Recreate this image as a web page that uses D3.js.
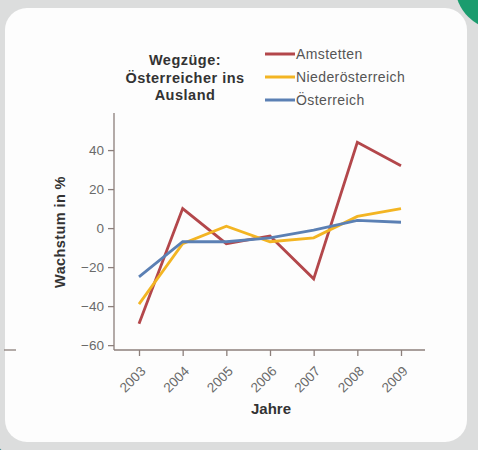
<!DOCTYPE html>
<html>
<head>
<meta charset="utf-8">
<script src="https://cdn.jsdelivr.net/npm/d3@7"></script>
<style>
  body { margin: 0; background: #dcdddd; }
  svg { display: block; }
  .axis text { font-family: "Liberation Sans", Arial, sans-serif; font-size: 13.5px; fill: #6a6a6a; }
  .axis path, .axis line { stroke: #8c7f7b; stroke-width: 1.3; }
</style>
</head>
<body>
<div id="chart"></div>
<script>
const years = [2003, 2004, 2005, 2006, 2007, 2008, 2009];
const amstetten = [-49, 10, -8, -4, -26, 44, 32];
const niederoesterreich = [-39, -8, 1, -7, -5, 6, 10];
const oesterreich = [-25, -7, -7, -5, -1, 4, 3];
const seriesNames = ["Amstetten", "Niederösterreich", "Österreich"];
const seriesColors = ["#b3474b", "#f3b523", "#5b80b4"];
const yTicks = [-60, -40, -20, 0, 20, 40];

const w = 478, h = 450;
const font = "Liberation Sans, Arial, sans-serif";
const svg = d3.select("#chart").append("svg").attr("width", w).attr("height", h);

// background pieces around the card
svg.append("rect").attr("width", w).attr("height", h).attr("fill", "#dcdddd");
svg.append("circle").attr("cx", 500).attr("cy", -15).attr("r", 45).attr("fill", "#1b9c6e");
svg.append("circle").attr("cx", -20).attr("cy", 468).attr("r", 28).attr("fill", "#3f8f94");
svg.append("rect").attr("x", 5).attr("y", 8).attr("width", 462).attr("height", 434)
    .attr("rx", 22).attr("fill", "#fdfdfd");
svg.append("line").attr("x1", 4).attr("x2", 16).attr("y1", 350).attr("y2", 350)
    .attr("stroke", "#8c7f7b").attr("stroke-width", 1.3);

const xScale = d3.scalePoint().domain(years).range([139, 401]);
const yScale = d3.scaleLinear().domain([-62.5, 58.5]).range([350, 114]);

const xAxis = d3.axisBottom(xScale).tickSize(6);
const yAxis = d3.axisLeft(yScale).tickValues(yTicks).tickSize(6).tickPadding(4);

const gx = svg.append("g").attr("class", "axis")
    .attr("transform", "translate(0,350)")
    .call(xAxis);
gx.select(".domain").attr("d", "M114,0H425");
gx.selectAll(".tick text")
    .attr("x", 0).attr("y", 0).attr("dy", 0)
    .attr("text-anchor", "end")
    .attr("transform", "translate(7,22) rotate(-45)");

const gy = svg.append("g").attr("class", "axis")
    .attr("transform", "translate(114,0)")
    .call(yAxis);
gy.select(".domain").attr("d", "M0,113V350");

// lines
const line = d3.line().x((d, i) => xScale(years[i])).y(d => yScale(d));
[amstetten, niederoesterreich, oesterreich].forEach((vals, k) => {
  svg.append("path").datum(vals)
    .attr("d", line)
    .attr("fill", "none")
    .attr("stroke", seriesColors[k])
    .attr("stroke-width", 2.8);
});

// axis labels
svg.append("text")
    .attr("transform", "translate(65,232) rotate(-90)")
    .attr("text-anchor", "middle")
    .style("font-family", font)
    .style("font-size", "14.5px").style("font-weight", "bold").style("fill", "#333")
    .style("letter-spacing", "0.4px")
    .text("Wachstum in %");
svg.append("text")
    .attr("x", 271).attr("y", 414)
    .attr("text-anchor", "middle")
    .style("font-family", font)
    .style("font-size", "15px").style("font-weight", "bold").style("fill", "#333")
    .text("Jahre");

// title
const titleLines = ["Wegzüge:", "Österreicher ins", "Ausland"];
svg.append("g").selectAll("text").data(titleLines).enter().append("text")
    .attr("x", 185).attr("y", (d, i) => 65 + i * 17.5)
    .attr("text-anchor", "middle")
    .style("font-family", font)
    .style("font-size", "14.5px").style("font-weight", "bold").style("fill", "#333")
    .style("letter-spacing", "0.5px")
    .text(d => d);

// legend
const legend = svg.append("g").selectAll("g").data(seriesNames).enter().append("g")
    .attr("transform", (d, i) => "translate(265," + (54 + i * 23) + ")");
legend.append("line").attr("x1", 0).attr("x2", 30)
    .attr("stroke", (d, i) => seriesColors[i]).attr("stroke-width", 3);
legend.append("text").attr("x", 31).attr("y", 0).attr("dy", "0.35em")
    .style("font-family", font)
    .style("font-size", "14px").style("fill", "#555")
    .style("letter-spacing", "0.4px")
    .text(d => d);
</script>
</body>
</html>
